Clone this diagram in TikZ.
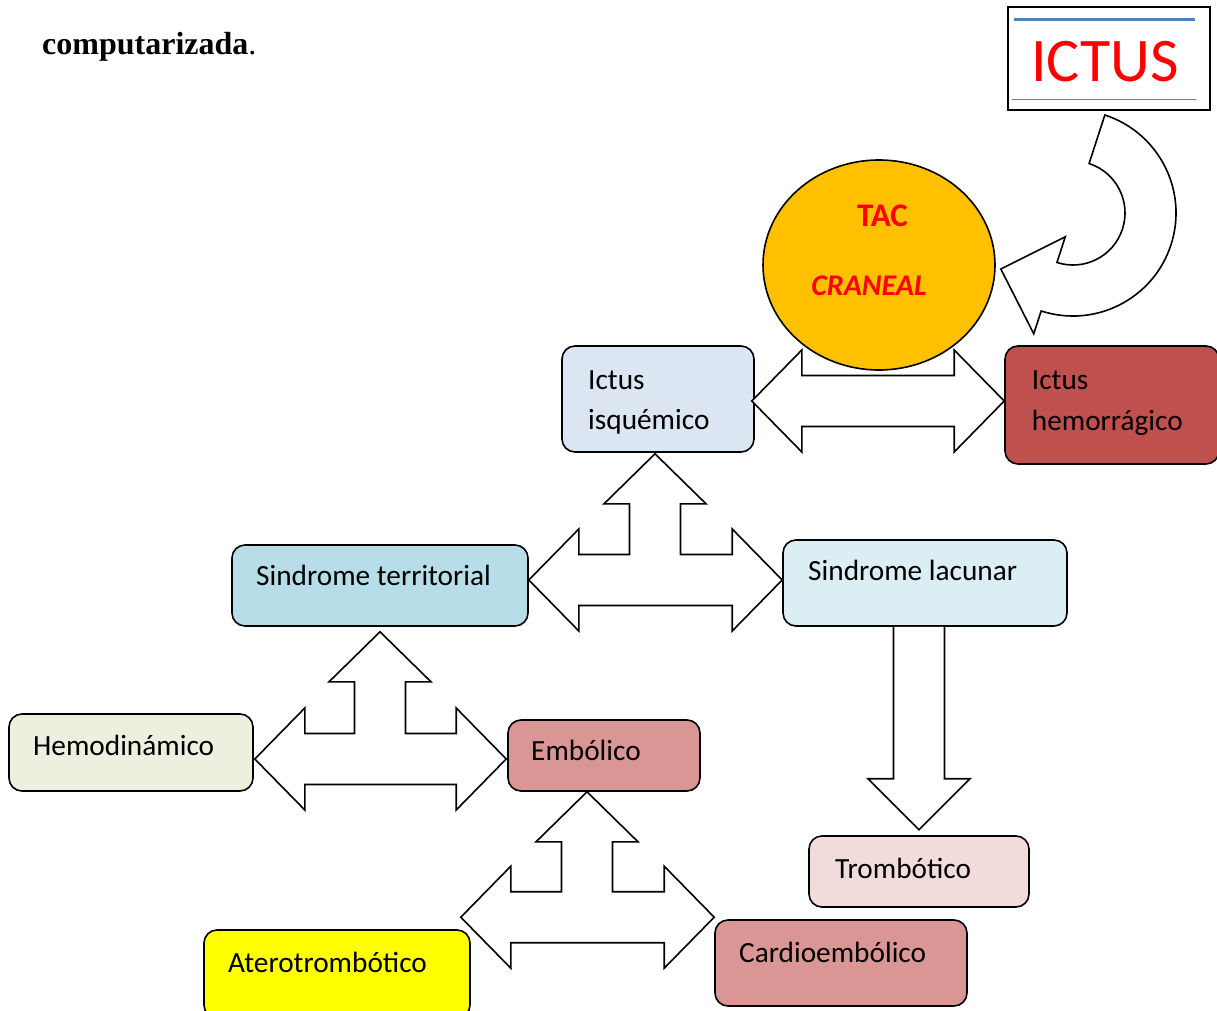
\documentclass[tikz,border=0pt]{standalone}
\usepackage{fontspec}
\setmainfont{Carlito}
\newfontfamily\titlefont{Liberation Serif}
\usetikzlibrary{shapes.geometric,calc}

\definecolor{isqfill}{HTML}{DCE6F2}
\definecolor{hemfill}{HTML}{C0504D}
\definecolor{terrfill}{HTML}{B7DEE8}
\definecolor{lacfill}{HTML}{DBEEF4}
\definecolor{hemofill}{HTML}{EBF1DE}
\definecolor{embfill}{HTML}{D99694}
\definecolor{tromfill}{HTML}{F2DCDB}
\definecolor{aterfill}{HTML}{FFFF00}
\definecolor{tacfill}{HTML}{FFC000}
\definecolor{ictusred}{HTML}{FF0000}
\definecolor{rulerblue}{HTML}{4F81BD}

\tikzset{
  box/.style={draw=black, line width=1.6pt, rounded corners=13pt, inner sep=0pt},
  lbl/.style={anchor=base west, inner sep=0pt, text=black, font=\fontsize{29.3}{35}\selectfont},
  blockarrow/.style={draw=black, line width=1.6pt, fill=white, line join=miter},
}

\begin{document}
\begin{tikzpicture}[x=1pt,y=1pt,yscale=-1]
\useasboundingbox (0,0) rectangle (1217,1011);

% heading fragment
\node[anchor=base west, inner sep=0pt, font=\titlefont\fontsize{32}{38}\selectfont] (title) at (42,55) {\textbf{computarizada}.};

% title box
\node[draw=black, line width=2pt, minimum width=202pt, minimum height=103pt, inner sep=0pt] (ictus) at (1109,58.5) {};
\draw[rulerblue, line width=3pt] (1014,19.3) -- (1195,19.3);
\draw[rulerblue, line width=0.8pt] (1012,99) -- (1196,99);
\node[anchor=base, inner sep=0pt, text=ictusred, font=\fontsize{62}{70}\selectfont] (ictusT) at (1105,82) {ICTUS};

% CT scan circle
\node[ellipse, draw=black, line width=1.6pt, fill=tacfill, minimum width=232pt, minimum height=210pt, inner sep=0pt] (tac) at (879,265) {};
\node[anchor=base, inner sep=0pt, text=ictusred, font=\bfseries\fontsize{33}{38}\selectfont] (tacT) at (882.5,226.7) {TAC};
\node[anchor=base, inner sep=0pt, text=ictusred, font=\bfseries\itshape\fontsize{30}{36}\selectfont] (tacC) at (869,295) {CRANEAL};

% boxes
\node[box, fill=isqfill,  minimum width=192pt, minimum height=106pt] (isq)  at (658,399) {};
\node[box, fill=hemfill,  minimum width=214pt, minimum height=118pt] (hem)  at (1112,405) {};
\node[box, fill=terrfill, minimum width=296pt, minimum height=81pt]  (terr) at (380,585.5) {};
\node[box, fill=lacfill,  minimum width=284pt, minimum height=86pt]  (lac)  at (925,583) {};
\node[box, fill=hemofill, minimum width=244pt, minimum height=77pt]  (hemo) at (131,752.5) {};
\node[box, fill=embfill,  minimum width=192pt, minimum height=71pt]  (emb)  at (604,755.5) {};
\node[box, fill=tromfill, minimum width=220pt, minimum height=71pt]  (trom) at (919,871.5) {};
\node[box, fill=aterfill, minimum width=266pt, minimum height=88pt]  (ater) at (337,974) {};
\node[box, fill=embfill,  minimum width=252pt, minimum height=86pt]  (card) at (841,963) {};

% box labels
\node[lbl] (isqA) at (588,389.3) {Ictus};
\node[lbl] (isqB) at (588,429.3) {isquémico};
\node[lbl] (hemA) at (1031.7,389) {Ictus};
\node[lbl] (hemB) at (1031.7,430.7) {hemorrágico};
\node[lbl] (terrT) at (256,585) {Sindrome territorial};
\node[lbl] (lacT) at (808,580) {Sindrome lacunar};
\node[lbl] (hemoT) at (33,755) {Hemodinámico};
\node[lbl] (embT) at (531,760) {Embólico};
\node[lbl] (tromT) at (835,878.3) {Trombótico};
\node[lbl] (aterT) at (228,972.3) {Aterotrombótico};
\node[lbl] (cardT) at (739,962) {Cardioembólico};

% curved arrow from the title box to the CT circle
\coordinate (uc) at (1073,213);
\draw[blockarrow] ($(uc)+(-72:103)$) arc[start angle=-72, end angle=108, radius=103]
  -- ($(uc)+(108:127)$) -- ($(tac.east)+(5,4)$) -- ($(uc)+(108:25)$)
  -- ($(uc)+(108:52)$) arc[start angle=108, end angle=-72, radius=52] -- cycle;

% double arrow: isquémico <-> hemorrágico
\coordinate (dA) at ($(isq.east)+(-3,2)$);
\coordinate (dB) at ($(hem.west |- dA)$);
\draw[blockarrow] (dA) -- ++(50,-51) -- ++(0,25.5) -- ($(dB)+(-50,-25.5)$) -- ++(0,-25.5)
  -- (dB) -- ++(-50,51) -- ++(0,-25.5) -- ($(dA)+(50,25.5)$) -- ++(0,25.5) -- cycle;

% three-way arrows
\newcommand\threeway[3]{%
  \draw[blockarrow] (#1) -- ++(51,50) -- ++(-25.5,0) -- ($(#1 |- #2)+(25.5,-25.5)$)
    -- ($(#3)+(-50,-25.5)$) -- ++(0,-25.5) -- (#3) -- ++(-50,51) -- ++(0,-25.5)
    -- ($(#2)+(50,25.5)$) -- ++(0,25.5) -- (#2) -- ++(50,-51) -- ++(0,25.5)
    -- ($(#1 |- #2)+(-25.5,-25.5)$) -- ($(#1)+(-25.5,50)$) -- ++(-25.5,0) -- cycle;}

\coordinate (t1U) at ($(isq.south)+(-3,1)$);
\coordinate (t1L) at ($(terr.east)+(0,-5.5)$);
\coordinate (t1R) at ($(lac.west |- t1L)$);
\threeway{t1U}{t1L}{t1R}

\coordinate (t2U) at ($(terr.south)+(0,5)$);
\coordinate (t2L) at ($(hemo.east)+(1,6.5)$);
\coordinate (t2R) at ($(emb.west |- t2L)+(-1,0)$);
\threeway{t2U}{t2L}{t2R}

\coordinate (t3U) at ($(emb.south)+(-17,0)$);
\coordinate (t3L) at ($(ater.north east)+(-10,-12)$);
\coordinate (t3R) at ($(card.west |- t3L)$);
\threeway{t3U}{t3L}{t3R}

% down arrow: lacunar -> trombótico
\coordinate (dnT) at ($(trom.north)+(0,-5.5)$);
\draw[blockarrow] (dnT |- lac.south) ++(-25.5,0) -- ($(dnT)+(-25.5,-51)$) -- ++(-25.5,0)
  -- (dnT) -- ++(51,-51) -- ++(-25.5,0) -- ($(dnT |- lac.south)+(25.5,0)$);

\end{tikzpicture}
\end{document}
